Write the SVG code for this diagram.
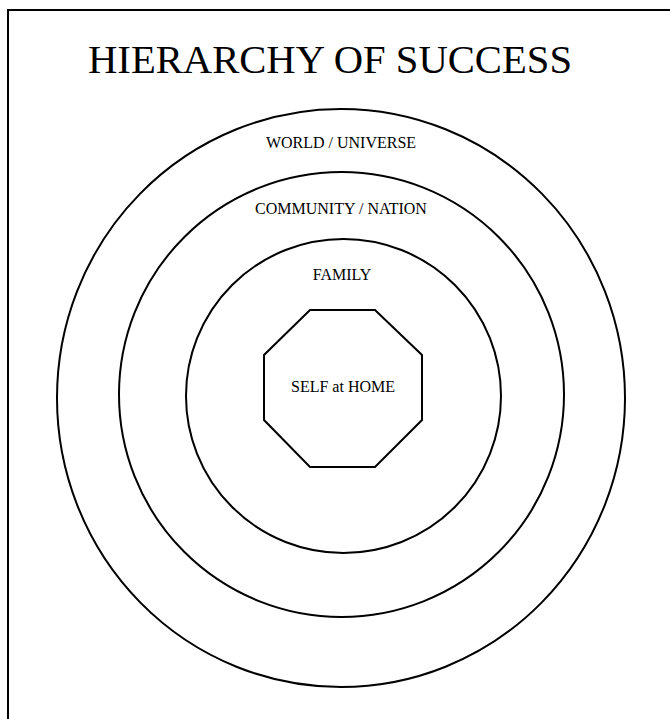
<svg xmlns="http://www.w3.org/2000/svg" width="670" height="719" viewBox="0 0 670 719">
<style>
.s{fill:none;stroke:#000;stroke-width:2}
.t{font-family:"Liberation Serif","Times New Roman",serif;fill:#000;text-anchor:middle}
</style>
<rect x="0" y="0" width="670" height="719" fill="#fff"/>
<rect class="s" x="8" y="10" width="700" height="760"/>
<text class="t" x="330" y="73" font-size="40" textLength="484" lengthAdjust="spacingAndGlyphs">HIERARCHY OF SUCCESS</text>
<g id="world">
<ellipse class="s" cx="341" cy="398" rx="284" ry="289"/>
<text class="t" x="341" y="148" font-size="16">WORLD / UNIVERSE</text>
</g>
<g id="community">
<ellipse class="s" cx="341.5" cy="394.5" rx="222.5" ry="222.5"/>
<text class="t" x="341" y="214" font-size="16">COMMUNITY / NATION</text>
</g>
<g id="family">
<ellipse class="s" cx="343.5" cy="396" rx="157.5" ry="157"/>
<text class="t" x="342" y="280" font-size="16">FAMILY</text>
</g>
<g id="self">
<polygon class="s" points="310,310 375,310 422,355 422,420 375,467 310,467 264,420 264,355"/>
<text class="t" x="343" y="392" font-size="16">SELF at HOME</text>
</g>
<g id="connectors"/>
</svg>
